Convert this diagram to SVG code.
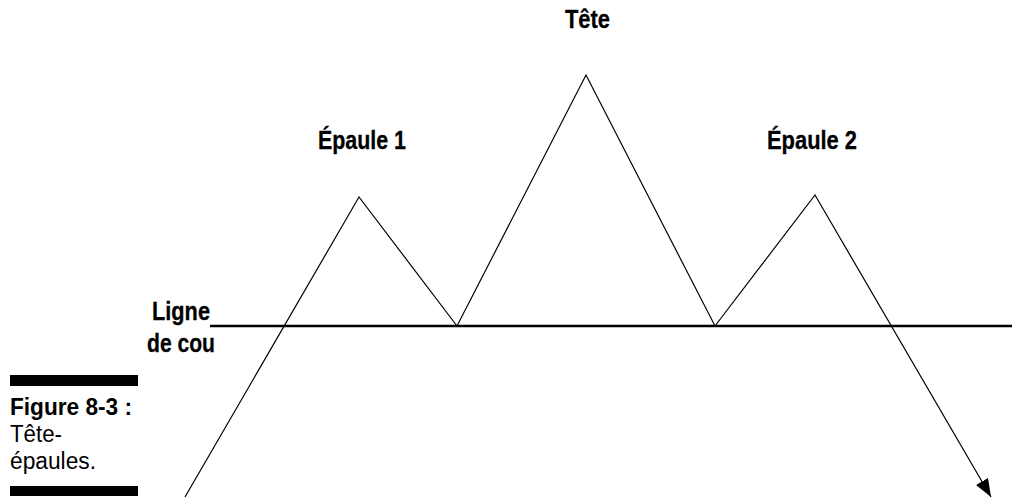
<svg xmlns="http://www.w3.org/2000/svg" width="1012" height="498" viewBox="0 0 1012 498">
<defs>
<style>
.lbl{font-family:"Liberation Sans",Arial,sans-serif;font-weight:bold;font-size:26px;fill:#000;stroke:#000;stroke-width:0.3}
.cap{font-family:"Liberation Sans",Arial,sans-serif;font-size:23px;fill:#000}
.capb{font-weight:bold}
.line{fill:none;stroke:#000;stroke-width:1.2}
</style>
<marker id="arr" markerWidth="18" markerHeight="14" viewBox="0 0 18 14" refX="18" refY="7" orient="auto" markerUnits="userSpaceOnUse">
<path d="M0,0 L18,7 L0,14 Z" fill="#000"/>
</marker>
</defs>
<rect width="1012" height="498" fill="#fff"/>
<g id="connectors">
<line x1="210" y1="326" x2="1012" y2="326" stroke="#000" stroke-width="2.5"/>
<polyline class="line" points="185,497 359,197 457,326 586,75 715,326 815,195 991,497" marker-end="url(#arr)"/>
</g>
<g id="tete"><text class="lbl" x="565" y="28" textLength="45" lengthAdjust="spacingAndGlyphs">Tête</text></g>
<g id="epaule1"><text class="lbl" x="318" y="149" textLength="88" lengthAdjust="spacingAndGlyphs">Épaule 1</text></g>
<g id="epaule2"><text class="lbl" x="767" y="149" textLength="90" lengthAdjust="spacingAndGlyphs">Épaule 2</text></g>
<g id="ligne"><text class="lbl" x="152" y="320" textLength="58" lengthAdjust="spacingAndGlyphs">Ligne</text><text class="lbl" x="147" y="352" textLength="68" lengthAdjust="spacingAndGlyphs">de cou</text></g>
<g id="caption">
<rect x="10" y="375" width="128" height="11" fill="#000"/>
<text class="cap capb" x="10" y="415" textLength="122" lengthAdjust="spacingAndGlyphs">Figure 8-3 :</text>
<text class="cap" x="10" y="442" textLength="52" lengthAdjust="spacingAndGlyphs">Tête-</text>
<text class="cap" x="10" y="469" textLength="86" lengthAdjust="spacingAndGlyphs">épaules.</text>
<rect x="10" y="486" width="128" height="10" fill="#000"/>
</g>
</svg>
